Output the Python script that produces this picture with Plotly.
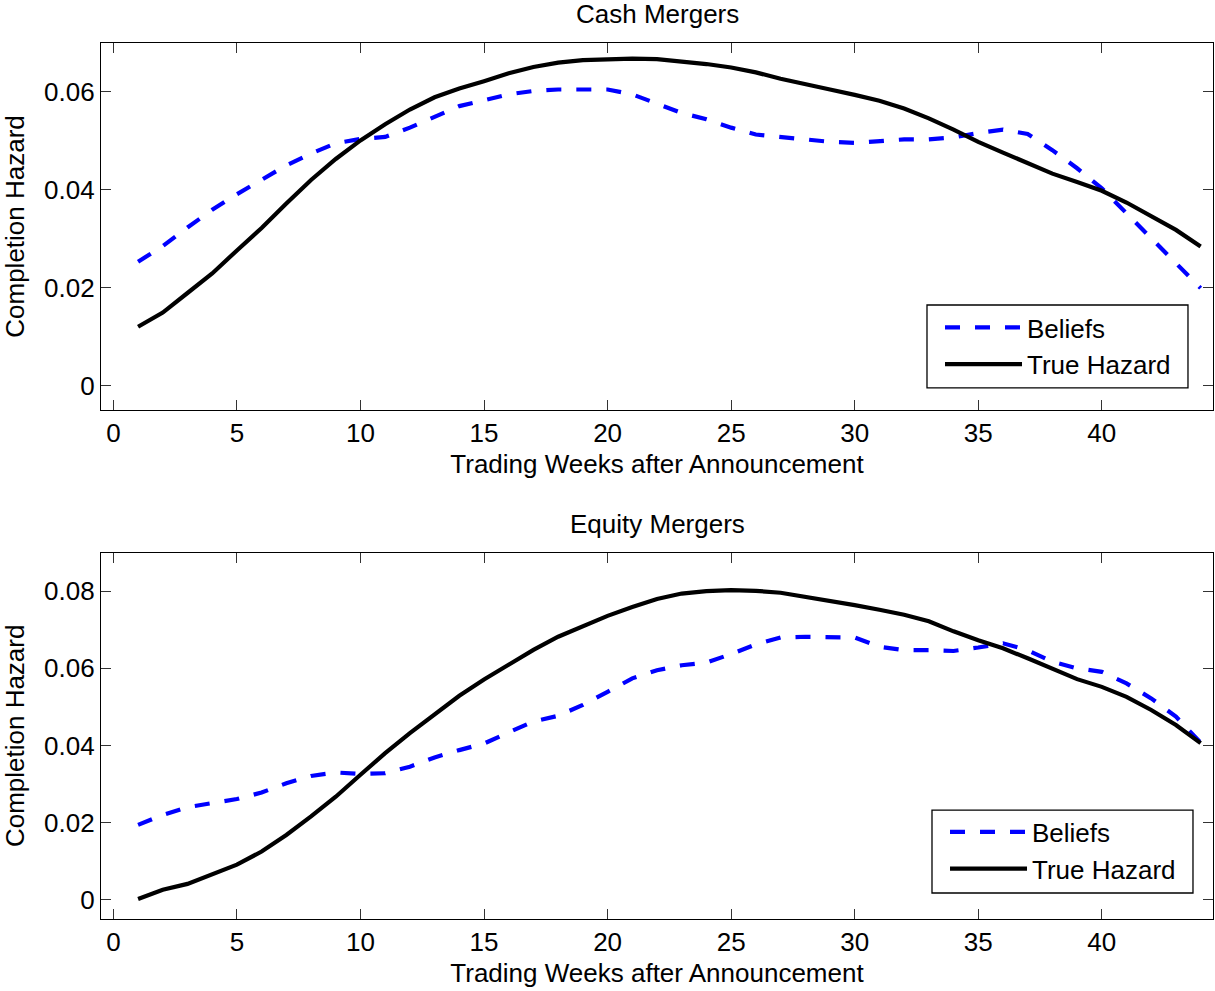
import plotly.graph_objects as go

weeks = list(range(1, 45))

cash_beliefs = [0.0253, 0.0285, 0.0323, 0.0359, 0.0391, 0.0420, 0.0450, 0.0474, 0.0495, 0.0504,
                0.0508, 0.0527, 0.0550, 0.0571, 0.0583, 0.0595, 0.0602, 0.0605, 0.0605, 0.0605,
                0.0595, 0.0575, 0.0557, 0.0544, 0.0527, 0.0513, 0.0508, 0.0503, 0.0498, 0.0496,
                0.0499, 0.0503, 0.0503, 0.0507, 0.0516, 0.0523, 0.0514, 0.0481, 0.0444, 0.0403,
                0.0352, 0.0301, 0.0251, 0.0199]
cash_true = [0.0120, 0.0149, 0.0189, 0.0229, 0.0276, 0.0322, 0.0372, 0.0420, 0.0463, 0.0501,
             0.0534, 0.0564, 0.0589, 0.0607, 0.0622, 0.0638, 0.0651, 0.0660, 0.0665, 0.0667,
             0.0668, 0.0667, 0.0663, 0.0657, 0.0650, 0.0640, 0.0627, 0.0615, 0.0605, 0.0594,
             0.0582, 0.0566, 0.0546, 0.0523, 0.0498, 0.0476, 0.0454, 0.0433, 0.0416, 0.0398,
             0.0374, 0.0347, 0.0318, 0.0284]

equity_beliefs = [0.0194, 0.0220, 0.0240, 0.0250, 0.0261, 0.0278, 0.0302, 0.0321, 0.0330, 0.0326,
                  0.0328, 0.0345, 0.0369, 0.0388, 0.0405, 0.0434, 0.0462, 0.0477, 0.0505, 0.0539,
                  0.0574, 0.0595, 0.0608, 0.0615, 0.0637, 0.0662, 0.0680, 0.0682, 0.0682, 0.0680,
                  0.0656, 0.0647, 0.0647, 0.0645, 0.0654, 0.0665, 0.0647, 0.0617, 0.0600, 0.0591,
                  0.0561, 0.0522, 0.0475, 0.0407]
equity_true = [0.0002, 0.0026, 0.0041, 0.0065, 0.0091, 0.0125, 0.0168, 0.0216, 0.0267, 0.0324,
               0.0380, 0.0432, 0.0482, 0.0529, 0.0571, 0.0610, 0.0648, 0.0682, 0.0710, 0.0736,
               0.0759, 0.0780, 0.0794, 0.0800, 0.0803, 0.0801, 0.0796, 0.0786, 0.0775, 0.0764,
               0.0752, 0.0739, 0.0722, 0.0696, 0.0673, 0.0652, 0.0626, 0.0598, 0.0572, 0.0552,
               0.0526, 0.0492, 0.0453, 0.0406]

x_ticks = [0, 5, 10, 15, 20, 25, 30, 35, 40]
cash_y_ticks = [0, 0.02, 0.04, 0.06]
cash_y_labels = ["0", "0.02", "0.04", "0.06"]
equity_y_ticks = [0, 0.02, 0.04, 0.06, 0.08]
equity_y_labels = ["0", "0.02", "0.04", "0.06", "0.08"]

series_names = ["Beliefs", "True Hazard"]
panel_titles = ["Cash Mergers", "Equity Mergers"]
x_title = "Trading Weeks after Announcement"
y_title = "Completion Hazard"

FONT = "Liberation Sans, Arial, Helvetica, sans-serif"
FS = 26
BLUE = "#0000ff"

fig = go.Figure()

fig.add_trace(go.Scatter(x=weeks, y=cash_beliefs, mode="lines", name=series_names[0],
                         line=dict(color=BLUE, width=4.2, dash="15px,15px"),
                         xaxis="x", yaxis="y", legend="legend"))
fig.add_trace(go.Scatter(x=weeks, y=cash_true, mode="lines", name=series_names[1],
                         line=dict(color="black", width=4.2),
                         xaxis="x", yaxis="y", legend="legend"))
fig.add_trace(go.Scatter(x=weeks, y=equity_beliefs, mode="lines", name=series_names[0],
                         line=dict(color=BLUE, width=4.2, dash="15px,15px"),
                         xaxis="x2", yaxis="y2", legend="legend2"))
fig.add_trace(go.Scatter(x=weeks, y=equity_true, mode="lines", name=series_names[1],
                         line=dict(color="black", width=4.2),
                         xaxis="x2", yaxis="y2", legend="legend2"))

axis_common = dict(showline=True, linecolor="black", linewidth=1.3, mirror="ticks",
                   ticks="inside", ticklen=10, tickwidth=1, tickcolor="#333333",
                   showgrid=False, zeroline=False,
                   tickfont=dict(family=FONT, size=FS, color="black"))

H_TOP = [0.5811, 1.0]
H_BOT = [0.0, 0.4182]

legend_common = dict(bgcolor="rgba(0,0,0,0)", borderwidth=0,
                     font=dict(family=FONT, size=FS, color="black"),
                     xanchor="left", yanchor="bottom", itemwidth=77,
                     tracegroupgap=0)

# legend frames (white box with black border, as in the original figure)
legend_boxes = [
    dict(type="rect", xref="paper", yref="paper", x0=0.7428, x1=0.9775, y0=0.6062, y1=0.7009,
         line=dict(color="black", width=1.3), fillcolor="white", layer="above"),
    dict(type="rect", xref="paper", yref="paper", x0=0.7473, x1=0.9820, y0=0.0297, y1=0.1244,
         line=dict(color="black", width=1.3), fillcolor="white", layer="above"),
]

fig.update_layout(
    width=1215, height=991, autosize=False,
    margin=dict(l=101, r=2, t=43, b=72),
    paper_bgcolor="white", plot_bgcolor="white",
    font=dict(family=FONT, size=FS, color="black"),
    xaxis=dict(axis_common, domain=[0, 1], anchor="y", range=[-0.5, 44.5],
               tickvals=x_ticks,
               title=dict(text=x_title, font=dict(family=FONT, size=FS), standoff=7)),
    yaxis=dict(axis_common, domain=H_TOP, anchor="x", range=[-0.005, 0.07],
               tickvals=cash_y_ticks, ticktext=cash_y_labels,
               title=dict(text=y_title, font=dict(family=FONT, size=FS), standoff=12)),
    xaxis2=dict(axis_common, domain=[0, 1], anchor="y2", range=[-0.5, 44.5],
                tickvals=x_ticks,
                title=dict(text=x_title, font=dict(family=FONT, size=FS), standoff=7)),
    yaxis2=dict(axis_common, domain=H_BOT, anchor="x2", range=[-0.005, 0.09],
                tickvals=equity_y_ticks, ticktext=equity_y_labels,
                title=dict(text=y_title, font=dict(family=FONT, size=FS), standoff=12)),
    legend=dict(legend_common, x=0.7545, y=0.6062),
    legend2=dict(legend_common, x=0.7590, y=0.0303),
    showlegend=True,
    shapes=legend_boxes,
    annotations=[
        dict(text=panel_titles[0], xref="paper", yref="paper", x=0.5, y=H_TOP[1],
             xanchor="center", yanchor="middle", yshift=29, showarrow=False,
             font=dict(family=FONT, size=FS, color="black")),
        dict(text=panel_titles[1], xref="paper", yref="paper", x=0.5, y=H_BOT[1],
             xanchor="center", yanchor="middle", yshift=29, showarrow=False,
             font=dict(family=FONT, size=FS, color="black")),
    ],
)

fig.write_html("out.html")
